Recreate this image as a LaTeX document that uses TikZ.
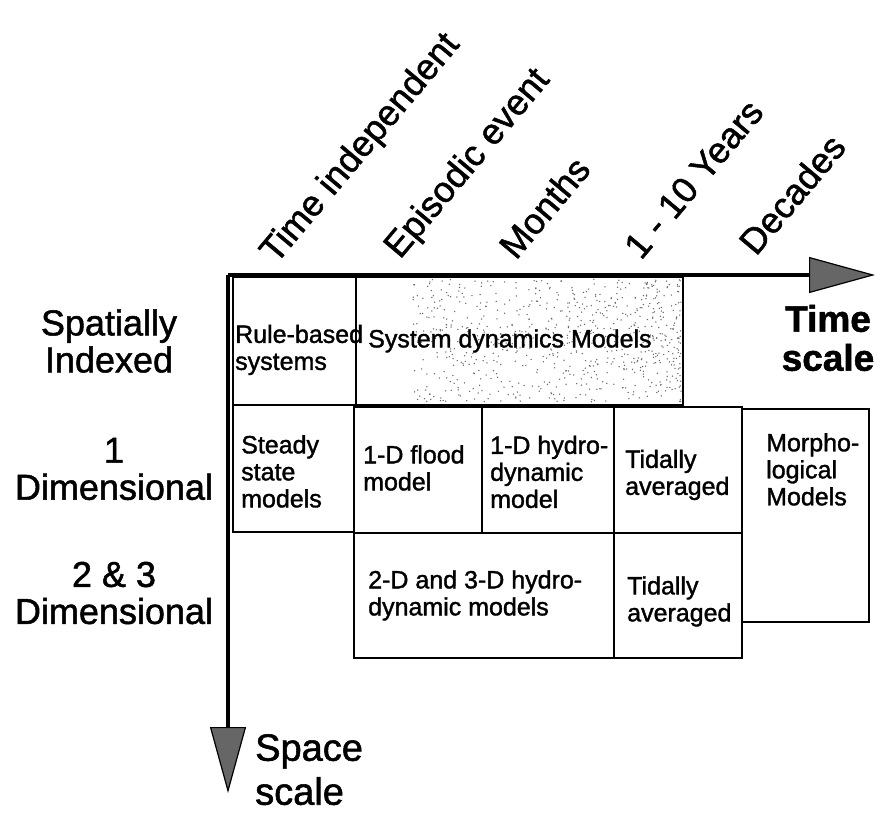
\documentclass[tikz,border=0pt]{standalone}
\usepackage{fontspec}
\setmainfont{Liberation Sans}[FakeBold=1.4]
\usetikzlibrary{arrows.meta,positioning}

\newcommand{\lblfont}{\fontsize{36}{37}\selectfont}
\newcommand{\cellfont}{\fontsize{25}{27}\selectfont}

\begin{document}
\begin{tikzpicture}[x=1pt, y=-1pt,
  cell/.style={draw, line width=1.8pt, anchor=north west, inner sep=0pt},
  txt/.style={align=left, font=\cellfont, inner sep=0pt},
  lbl/.style={align=center, font=\lblfont, inner sep=0pt},
  tick/.style={font=\lblfont, rotate=50, anchor=base west, inner sep=0pt},
  axis/.style={line width=3.6pt, -{Triangle[length=66pt, width=36pt, fill=black!60, line width=1.2pt]}}
]
\useasboundingbox (0,0) rectangle (883,816);

% axes
\coordinate (origin) at (228,275);
\coordinate (tend)   at (875,275);
\coordinate (send)   at (228,793);

% cells of the table
\node[cell, minimum width=123pt, minimum height=128pt] (rule)   at (232,276) {};
\node[cell, minimum width=327pt, minimum height=128pt] (sysdyn) at (355,276) {};
\pgfmathsetseed{11}
\foreach \i in {1,...,750}
  \fill[black!60] ({681-270*rnd^1.3},{279+123*rnd}) circle (0.75);
\node[cell, minimum width=121pt, minimum height=127pt] (steady) at (232,404) {};
\node[cell, minimum width=128pt, minimum height=126pt] (flood)  at (353,406) {};
\node[cell, minimum width=132pt, minimum height=126pt] (hydro)  at (481,406) {};
\node[cell, minimum width=128pt, minimum height=126pt] (tidal)  at (613,406) {};
\node[cell, minimum width=127pt, minimum height=213pt] (morph)  at (741,408) {};
\node[cell, minimum width=260pt, minimum height=125pt] (flat)   at (353,532) {};
\node[cell, minimum width=128pt, minimum height=125pt] (tidalb) at (613,532) {};

% cell texts
\node[txt, right=3pt of rule.west, yshift=-9pt] (ruletxt) {Rule-based\\systems};
\node[txt, right=13pt of sysdyn.west]  (sysdyntxt) {System dynamics Models};
\node[txt, right=9pt of steady.west, yshift=-3pt]  (steadytxt) {Steady\\state\\models};
\node[txt, right=10pt of flood.west, yshift=2pt]   (floodtxt)  {1-D flood\\model};
\node[txt, right=9pt of hydro.west, yshift=-2pt]   (hydrotxt)  {1-D hydro-\\dynamic\\model};
\node[txt, right=12pt of tidal.west, yshift=-5pt]   (tidaltxt)  {Tidally\\averaged};
\node[txt, anchor=north west, below right=25pt and 25pt of morph.north west] (morphtxt) {Morpho-\\logical\\Models};
\node[txt, right=15pt of flat.west]    (flattxt)   {2-D and 3-D hydro-\\dynamic models};
\node[txt, right=14pt of tidalb.west, yshift=-6pt]  (tidalbtxt) {Tidally\\averaged};

\draw[axis] (origin) -- (tend);
\draw[axis] (origin) -- (send);

% time scale ticks
\node[tick] (tind)   at (276,265) {Time independent};
\node[tick] (tepi)   at (400,260) {Episodic event};
\node[tick] (tmon)   at (516,261) {Months};
\node[tick] (tyrs)   at (641,261) {1 - 10 Years};
\node[tick] (tdec)   at (756,257) {Decades};

% space scale rows
\node[lbl] (rowidx) at (109,341) {Spatially\\Indexed};
\node[lbl] (rowone) at (114,469) {1\\Dimensional};
\node[lbl] (rowtwo) at (114,593) {2 \& 3\\Dimensional};

% axis names
\node[lbl, font=\fontsize{37}{39}\selectfont\bfseries] (tname) at (828,338) {Time\\scale};
\node[align=left, font=\fontsize{38}{44}\selectfont, inner sep=0pt, anchor=north west] (sname) at (255,734) {Space\\scale};
\end{tikzpicture}
\end{document}
